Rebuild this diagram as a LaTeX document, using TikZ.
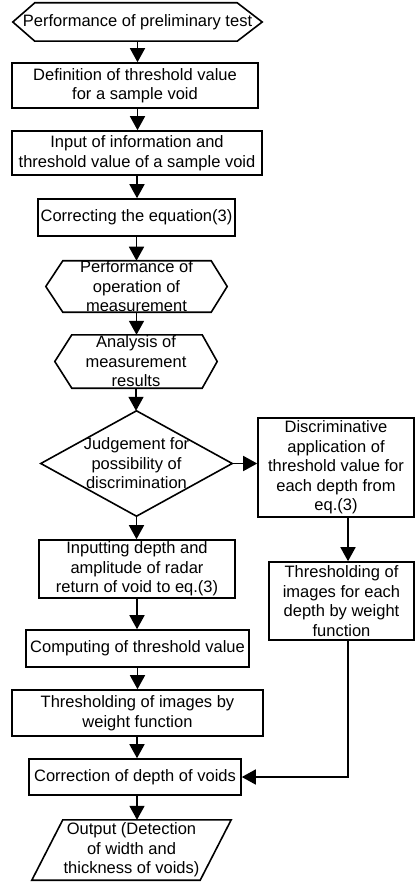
\documentclass[tikz,border=0pt]{standalone}
\usepackage{fontspec}
\setmainfont{Liberation Sans}
\usetikzlibrary{arrows.meta,calc}
\begin{document}
\begin{tikzpicture}[x=1pt,y=-1pt,
  txt/.style={rectangle, inner sep=0pt, align=center, font=\fontsize{16.5}{19.5}\selectfont},
  box/.style={txt, draw, line width=1.6pt},
  outl/.style={line width=1.6pt, line join=miter},
  arr/.style={line width=1.6pt, line join=miter, -{Triangle[length=14pt,width=15pt]}}]
\useasboundingbox (0,0) rectangle (415,882);
% nodes
\node[txt, minimum width=249pt, minimum height=38pt] (n1) at (137.5,22) {Performance of preliminary test};
\node[box, minimum width=246pt, minimum height=45pt] (n2) at (135,85.5) {Definition of threshold value\\for a sample void};
\node[box, minimum width=250pt, minimum height=44pt] (n3) at (137,153) {Input of information and\\threshold value of a sample void};
\node[box, minimum width=197pt, minimum height=37pt] (n4) at (136.5,217.5) {Correcting the equation(3)};
\node[txt, minimum width=181pt, minimum height=51pt] (n5) at (136.5,286.5) {Performance of\\operation of\\measurement};
\node[txt, minimum width=162pt, minimum height=53pt] (n6) at (136,361.5) {Analysis of\\measurement\\results};
\node[txt, minimum width=191pt, minimum height=105pt] (n7) at (136.5,463.5) {Judgement for\\possibility of\\discrimination};
\node[box, minimum width=156pt, minimum height=99pt] (n8) at (336,467.5) {Discriminative\\application of\\threshold value for\\each depth from\\eq.(3)};
\node[box, minimum width=196pt, minimum height=58pt] (n9) at (137,569) {Inputting depth and\\amplitude of radar\\return of void to eq.(3)};
\node[box, minimum width=145pt, minimum height=78pt] (n10) at (341.5,601) {Thresholding of\\images for each\\depth by weight\\function};
\node[box, minimum width=223pt, minimum height=37pt] (n11) at (137.5,648.5) {Computing of threshold value};
\node[box, minimum width=251pt, minimum height=46pt] (n12) at (137.5,713) {Thresholding of images by\\weight function};
\node[box, minimum width=212pt, minimum height=36pt] (n13) at (135,777) {Correction of depth of voids};
\node[txt, minimum width=199pt, minimum height=60pt] (n14) at (131.5,850) {Output (Detection\\of width and\\thickness of voids)};
% outlines
\draw[outl] (n1.west) -- ($(n1.north west)+(22,0)$) -- ($(n1.north east)+(-25,0)$) -- (n1.east)
  -- ($(n1.south east)+(-25,0)$) -- ($(n1.south west)+(22,0)$) -- cycle;
\draw[outl] (n5.west) -- ($(n5.north west)+(17,0)$) -- ($(n5.north east)+(-16,0)$) -- (n5.east)
  -- ($(n5.south east)+(-16,0)$) -- ($(n5.south west)+(17,0)$) -- cycle;
\draw[outl] (n6.west) -- ($(n6.north west)+(17,0)$) -- ($(n6.north east)+(-15,0)$) -- (n6.east)
  -- ($(n6.south east)+(-15,0)$) -- ($(n6.south west)+(17,0)$) -- cycle;
\draw[outl] (n7.west) -- (n7.north) -- (n7.east) -- (n7.south) -- cycle;
\draw[outl] ($(n14.north west)+(31,0)$) -- (n14.north east) -- ($(n14.south east)+(-31,0)$) -- (n14.south west) -- cycle;
% connectors
\draw[arr] (n1.south) -- (n1.south |- n2.north);
\draw[arr] (n2.south -| n1.south) -- (n1.south |- n3.north);
\draw[arr] (n3.south) -- (n3.south |- n4.north);
\draw[arr] (n4.south) -- (n4.south |- n5.north);
\draw[arr] (n5.south) -- (n5.south |- n6.north);
\draw[arr] (n6.south) -- (n6.south |- n7.north);
\draw[arr] (n7.east) -- (n7.east -| n8.west);
\draw[arr] (n7.south) -- (n7.south |- n9.north);
\coordinate (c8) at ($(n8.south)+(12,0)$);
\draw[arr] (c8) -- (c8 |- n10.north);
\draw[arr] (n9.south) -- (n9.south |- n11.north);
\draw[arr] (n11.south) -- (n11.south |- n12.north);
\draw[arr] (n12.south -| n9.south) -- (n9.south |- n13.north);
\draw[arr] (n13.south -| n9.south) -- (n9.south |- n14.north);
\coordinate (c10) at (c8 |- n10.south);
\draw[arr] (c10) |- (n13.east);
\end{tikzpicture}
\end{document}
